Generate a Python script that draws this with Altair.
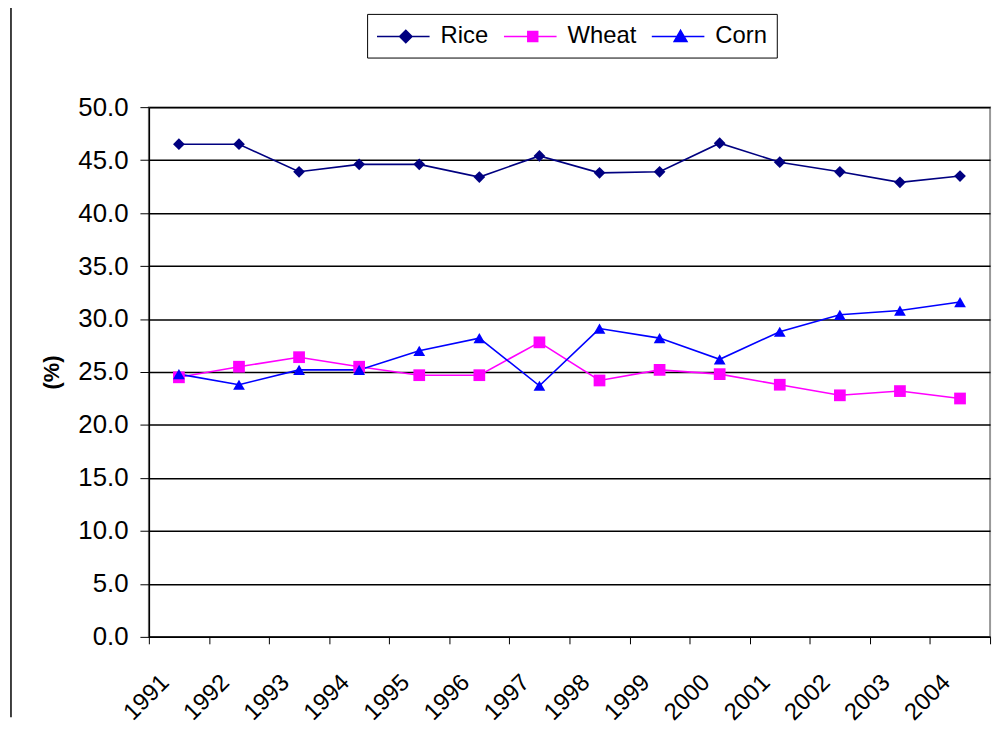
import altair as alt
import pandas as pd

years = ["1991", "1992", "1993", "1994", "1995", "1996", "1997",
         "1998", "1999", "2000", "2001", "2002", "2003", "2004"]
series = ["Rice", "Wheat", "Corn"]
colors = ["#000080", "#FF00FF", "#0000FF"]
markers = ["diamond", "square", "triangle-up"]
rice = [46.5, 46.5, 43.9, 44.6, 44.6, 43.4, 45.4, 43.8, 43.9, 46.6, 44.8, 43.9, 42.9, 43.5]
wheat = [24.5, 25.5, 26.4, 25.5, 24.7, 24.7, 27.8, 24.2, 25.2, 24.8, 23.8, 22.8, 23.2, 22.5]
corn = [24.8, 23.8, 25.2, 25.2, 27.0, 28.2, 23.7, 29.1, 28.2, 26.2, 28.8, 30.4, 30.8, 31.6]

rows = []
for name, vals in zip(series, [rice, wheat, corn]):
    for y, v in zip(years, vals):
        rows.append({"Year": y, "Series": name, "Marker": name, "Value": v})
df = pd.DataFrame(rows)

FONT = "Liberation Sans"

shape_expr = (
    "datum.value === 'Rice' ? 'M-1,0H3.24M1.32,-0.5L1.82,0L1.32,0.5L0.82,0Z' : "
    "datum.value === 'Wheat' ? 'M-1,0H3.24M0.92,-0.4H1.72V0.4H0.92Z' : "
    "'M-1,0H3.24M1.32,-0.5L1.84,0.4H0.8Z'"
)
col_expr = "scale('color', datum.value)"

legend = alt.Legend(
    orient="none", legendX=220, legendY=-94, direction="horizontal", title=None,
    symbolSize=625, symbolStrokeWidth=1.5, labelFontSize=24, labelFont=FONT,
    labelColor="black", strokeColor="black", fillColor="white", padding=9,
    columnPadding=12, labelOffset=38, rowPadding=0,
    symbolType={"expr": shape_expr},
    symbolFillColor={"expr": col_expr},
    symbolStrokeColor={"expr": col_expr},
)

scale = alt.Scale(domain=series, range=colors)

x = alt.X("Year:O", sort=years,
          scale=alt.Scale(paddingInner=0, paddingOuter=0),
          axis=alt.Axis(title=None, labelAngle=-45, labelAlign="right", labelBaseline="middle",
                        labelFontSize=24, labelFont=FONT, labelColor="black",
                        labelPadding=35, labelOffset=-14, tickBand="extent",
                        tickSize=7, tickColor="black", domainColor="black",
                        domainWidth=1.5, grid=False))
y = alt.Y("Value:Q",
          scale=alt.Scale(domain=[0, 50], nice=False, zero=True),
          axis=alt.Axis(title="(%)", values=[0, 5, 10, 15, 20, 25, 30, 35, 40, 45, 50],
                        format=".1f", labelFontSize=26, labelFont=FONT, labelColor="black",
                        labelPadding=12, tickSize=9, tickColor="black",
                        domainColor="black", domainWidth=1.5,
                        grid=True, gridColor="black", gridWidth=1.5,
                        titleFont=FONT, titleFontSize=22, titleFontWeight="bold",
                        titleColor="black", titleAngle=-90, titleX=-98, titleY=267,
                        titleBaseline="middle", titleAlign="center"))

base = alt.Chart(df)
lines = base.mark_line(strokeWidth=1.6).encode(
    x=x, y=y, color=alt.Color("Series:N", scale=scale, legend=legend), detail="Series:N")
points = base.mark_point(filled=True, size=140, opacity=1).encode(
    x=x, y=y, color=alt.Color("Series:N", scale=scale, legend=None),
    shape=alt.Shape("Marker:N", scale=alt.Scale(domain=series, range=markers), legend=None),
)

frame = alt.Chart(pd.DataFrame({"a": [0]})).mark_rule(color="black", strokeWidth=1.5).encode(
    x=alt.value(-139), y=alt.value(-105), y2=alt.value(615)
)

chart = alt.layer(lines, points, frame).resolve_legend(
    color="independent", shape="independent"
).properties(
    width=848, height=534,
    autosize=alt.AutoSizeParams(type="none"),
    padding={"left": 142, "top": 97, "right": 8, "bottom": 100},
).configure_view(stroke="#999999", strokeWidth=2)

chart.save("out.html", embed_options={"renderer": "svg", "actions": False})
